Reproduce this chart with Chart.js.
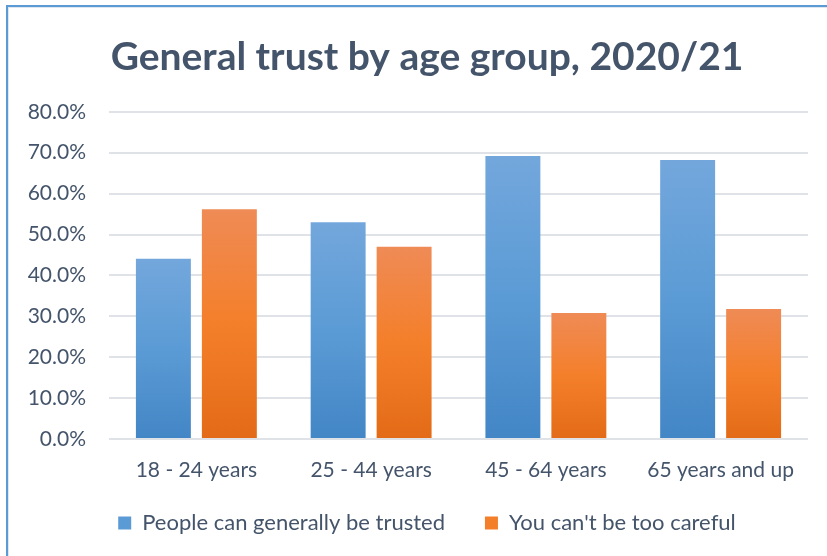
<!DOCTYPE html>
<html>
<head>
<meta charset="utf-8">
<script src="https://cdn.jsdelivr.net/npm/chart.js@4"></script>
<style>
  html, body { margin: 0; padding: 0; background: #fff; }
  #wrap { position: relative; width: 827px; height: 556px; overflow: hidden; }
  #frame { position: absolute; left: 6px; top: 5px; width: 900px; height: 700px;
           border-top: 2px solid #5b9bd5; border-left: 2px solid #5b9bd5;
           box-shadow: inset 1px 1px 0 #dfe6ee; }
  canvas { position: absolute; left: 0; top: 0; }
</style>
</head>
<body>
<div id="wrap">
  <div id="frame"></div>
  <canvas id="myChart" width="827" height="556"></canvas>
</div>
<script>
const categories = ["18 - 24 years", "25 - 44 years", "45 - 64 years", "65 years and up"];
const trusted = [44.1, 53.0, 69.2, 68.2];
const careful = [56.2, 47.0, 30.8, 31.8];
const seriesNames = ["People can generally be trusted", "You can't be too careful"];

const textColor = '#44546a';

// gradient per bar, from its top down to the axis
function barGradient(stops) {
    return function(context) {
        const chart = context.chart;
        const y = chart.scales.y;
        if (!y || context.type !== 'data') return stops[1];
        const top = y.getPixelForValue(context.raw);
        const bottom = y.getPixelForValue(0);
        if (!isFinite(top) || !isFinite(bottom) || top === bottom) return stops[1];
        const g = chart.ctx.createLinearGradient(0, top, 0, bottom);
        g.addColorStop(0, stops[0]);
        g.addColorStop(0.5, stops[1]);
        g.addColorStop(1, stops[2]);
        return g;
    };
}

// fixed axis size, and let the labels draw outside the axis box
function fixSize(prop, size) {
    return function(scale) {
        scale[prop] = size;
        scale._computeLabelArea = function() { return undefined; };
    };
}

const blueStops = ['#73a7dc', '#5b9bd5', '#4386c6'];
const orangeStops = ['#ef8b56', '#f47f2a', '#e36b17'];

const ctx = document.getElementById("myChart").getContext('2d');
window.myChart = new Chart(ctx, {
    type: 'bar',
    data: {
        labels: categories,
        datasets: [{
            label: seriesNames[0],
            data: trusted,
            backgroundColor: barGradient(blueStops),
            borderWidth: 0
        }, {
            label: seriesNames[1],
            data: careful,
            backgroundColor: barGradient(orangeStops),
            borderWidth: 0
        }]
    },
    options: {
        responsive: false,
        animation: false,
        datasets: {
            bar: { categoryPercentage: 0.755, barPercentage: 0.833 }
        },
        layout: { padding: { left: 46, right: 19, top: 0, bottom: 12 } },
        plugins: {
            title: {
                display: true,
                text: 'General trust by age group, 2020/21',
                color: textColor,
                font: { family: 'Lato', size: 39, weight: 'bold' },
                padding: { top: 34, bottom: 31 }
            },
            legend: {
                position: 'bottom',
                labels: {
                    color: textColor,
                    font: { family: 'Lato', size: 22 },
                    boxWidth: 13,
                    boxHeight: 13,
                    padding: 40,
                    generateLabels: function(chart) {
                        const cols = [blueStops[1], orangeStops[1]];
                        return chart.data.datasets.map((ds, i) => ({
                            text: ds.label,
                            fillStyle: cols[i],
                            strokeStyle: cols[i],
                            lineWidth: 0,
                            fontColor: textColor,
                            datasetIndex: i,
                            hidden: false
                        }));
                    }
                }
            },
            tooltip: { enabled: false }
        },
        scales: {
            x: {
                grid: { display: false, drawTicks: false },
                border: { display: false },
                ticks: {
                    color: textColor,
                    font: { family: 'Lato', size: 21 },
                    padding: 19,
                    maxRotation: 0
                },
                afterFit: fixSize('height', 33)
            },
            y: {
                min: 0,
                max: 80,
                grid: { color: '#dfe3e8', lineWidth: 2, drawTicks: false },
                border: { display: false },
                ticks: {
                    stepSize: 10,
                    color: textColor,
                    font: { family: 'Lato', size: 21 },
                    padding: 23,
                    callback: function(v) { return v.toFixed(1) + '%'; }
                },
                afterFit: fixSize('width', 63)
            }
        }
    }
});
</script>
</body>
</html>
